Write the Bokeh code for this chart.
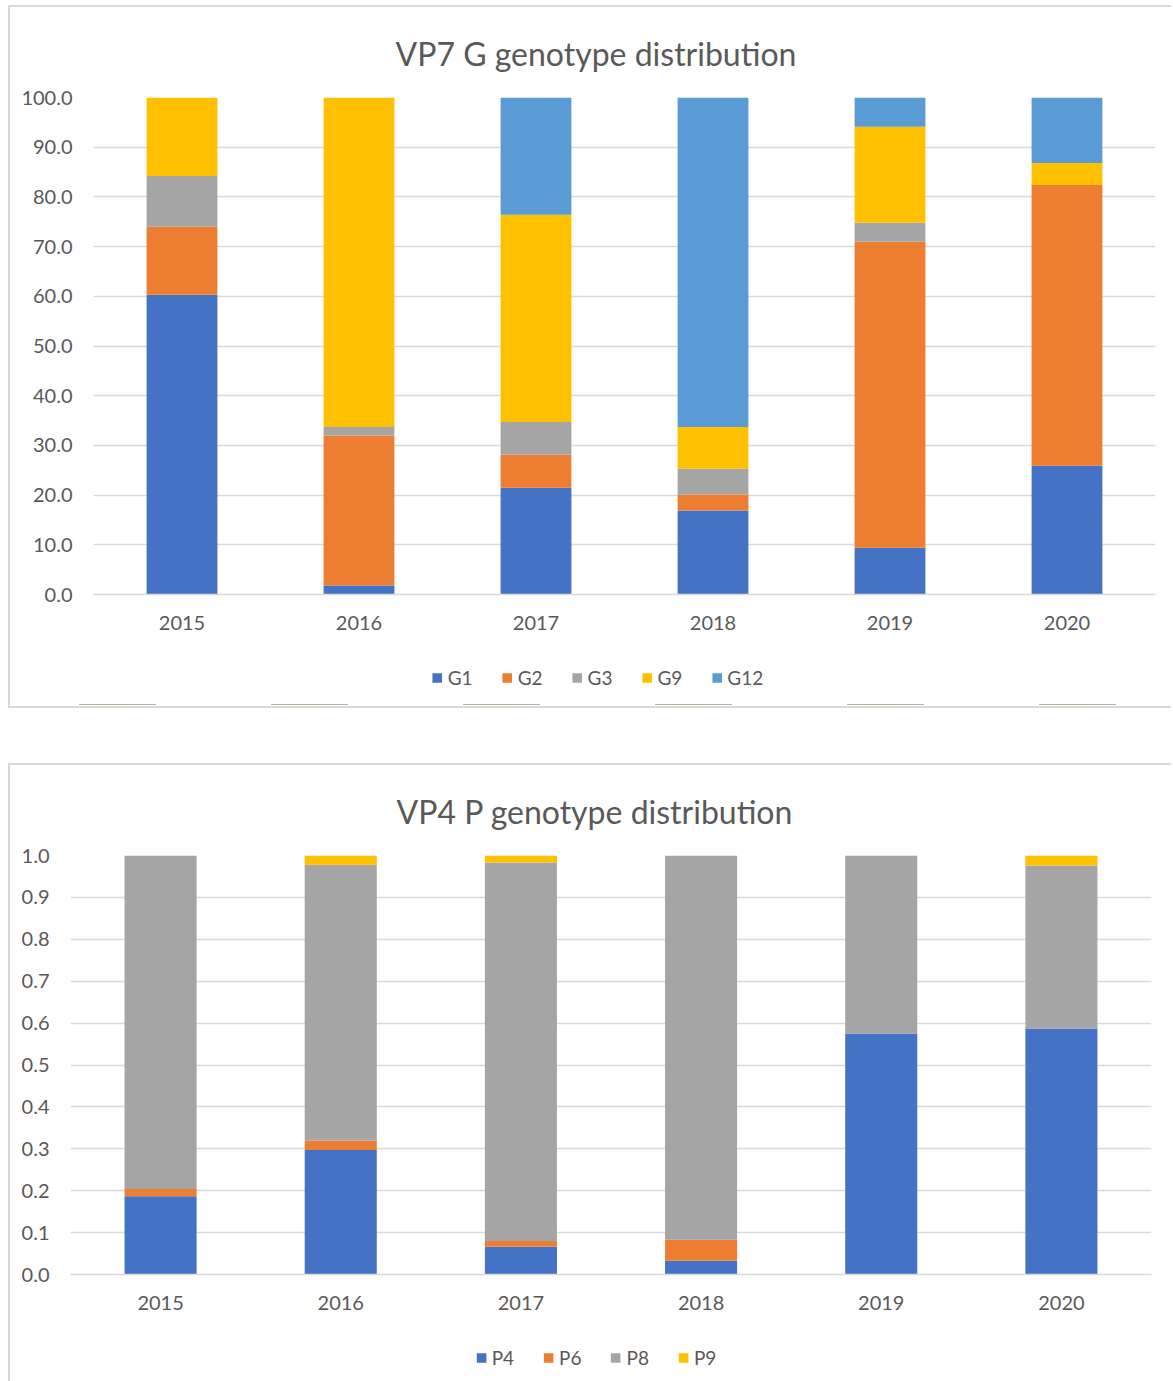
from bokeh.plotting import figure
from bokeh.models import (Legend, LegendItem, Range1d, FactorRange, NumeralTickFormatter,
                          FixedTicker, ColumnDataSource)
from bokeh.embed import file_html
from bokeh.resources import INLINE

years = ["2015", "2016", "2017", "2018", "2019", "2020"]

# VP7 G genotypes (%)
g_names = ["G1", "G2", "G3", "G9", "G12"]
G1 = [60.3, 1.8, 21.5, 16.9, 9.4, 25.9]
G2 = [13.7, 30.2, 6.6, 3.2, 61.6, 56.5]
G3 = [10.2, 1.7, 6.6, 5.2, 3.8, 0.0]
G9 = [15.8, 66.3, 41.7, 8.4, 19.3, 4.4]
G12 = [0.0, 0.0, 23.6, 66.3, 5.9, 13.2]
g_ticks = [0, 10, 20, 30, 40, 50, 60, 70, 80, 90, 100]

# VP4 P genotypes (fraction)
p_names = ["P4", "P6", "P8", "P9"]
P4 = [0.187, 0.297, 0.066, 0.033, 0.575, 0.587]
P6 = [0.017, 0.022, 0.014, 0.050, 0.0, 0.0]
P8 = [0.796, 0.659, 0.903, 0.917, 0.425, 0.389]
P9 = [0.0, 0.022, 0.017, 0.0, 0.0, 0.024]
p_ticks = [0.0, 0.1, 0.2, 0.3, 0.4, 0.5, 0.6, 0.7, 0.8, 0.9, 1.0]

g_colors = ["#4472C4", "#ED7D31", "#A5A5A5", "#FFC000", "#5B9BD5"]
p_colors = ["#4472C4", "#ED7D31", "#A5A5A5", "#FFC000"]

FONT = "Lato"
TXT = "#595959"
GRID = "#D9D9D9"
B = "2px solid #D9D9D9"


def make_source(names, series):
    data = {"year": years}
    for n, s in zip(names, series):
        data[n] = s
    return ColumnDataSource(data)


def make_chart(title, names, series, colors, ymax, ticks, H, mbl, mbr, mbt, mbb,
               title_offset, styles, margin):
    src = make_source(names, series)
    p = figure(x_range=FactorRange(*years, range_padding=0), y_range=Range1d(0, ymax),
               width=1163, height=H, output_backend="svg", toolbar_location=None,
               min_border_left=mbl, min_border_right=mbr, min_border_top=mbt,
               min_border_bottom=mbb, outline_line_color=None, styles=styles,
               margin=margin)
    p.vbar_stack(names, x="year", width=0.4, source=src, fill_color=colors,
                 line_color=None)
    p.title.text = title
    p.title.align = "left"
    p.title.text_font = FONT
    p.title.text_font_size = "32px"
    p.title.text_font_style = "normal"
    p.title.text_color = TXT
    p.title.offset = title_offset
    p.title.standoff = 49

    p.xgrid.grid_line_color = None
    p.ygrid.grid_line_color = GRID
    p.ygrid.grid_line_width = 1.5
    p.yaxis.ticker = FixedTicker(ticks=ticks)
    p.yaxis.formatter = NumeralTickFormatter(format="0.0")
    p.yaxis.axis_line_color = None
    p.xaxis.axis_line_color = GRID
    p.xaxis.axis_line_width = 1.5
    for ax in (p.xaxis, p.yaxis):
        ax.major_tick_line_color = None
        ax.minor_tick_line_color = None
        ax.major_tick_out = 0
        ax.major_tick_in = 0
        ax.minor_tick_out = 0
        ax.major_label_text_font = FONT
        ax.major_label_text_font_size = "20px"
        ax.major_label_text_color = TXT
    p.yaxis.major_label_standoff = 21
    p.xaxis.major_label_standoff = 21
    return p


def make_legend(names, series, colors, ymax, H, mbl, mbt, mbb, styles, margin):
    # a strip that carries only the legend of the chart above it; its y range lies
    # above the data so that the bars themselves fall outside this strip's frame
    src = make_source(names, series)
    p = figure(x_range=FactorRange(*years, range_padding=0),
               y_range=Range1d(10 * ymax, 11 * ymax),
               width=1163, height=H, output_backend="svg", toolbar_location=None,
               x_axis_location=None, y_axis_location=None,
               min_border_left=mbl, min_border_right=0, min_border_top=mbt,
               min_border_bottom=mbb, outline_line_color=None, styles=styles,
               margin=margin)
    p.xgrid.grid_line_color = None
    p.ygrid.grid_line_color = None
    rs = p.vbar_stack(names, x="year", width=0.4, source=src, fill_color=colors,
                      line_color=None)
    items = [LegendItem(label=n, renderers=[r]) for n, r in zip(names, rs)]
    leg = Legend(items=items, orientation="horizontal", location="center",
                 glyph_width=12, glyph_height=12, label_standoff=5, spacing=28,
                 padding=0, margin=0, border_line_color=None, background_fill_alpha=0,
                 label_text_font=FONT, label_text_font_size="19px", label_text_color=TXT,
                 label_width=10)
    p.add_layout(leg)
    return p


top = make_chart("VP7 G genotype distribution", g_names, [G1, G2, G3, G9, G12], g_colors,
                 100, g_ticks, 645, 83, 18, 90, 58, 302,
                 {"border-left": B, "border-top": B}, (5, 0, 0, 8))
top_leg = make_legend(g_names, [G1, G2, G3, G9, G12], g_colors, 100, 58, 11, 0, 4,
                      {"border-left": B, "border-bottom": B}, (0, 0, 0, 8))
bot = make_chart("VP4 P genotype distribution", p_names, [P4, P6, P8, P9], p_colors,
                 1.0, p_ticks, 567, 60, 22, 90, 58, 326,
                 {"border-left": B, "border-top": B}, (55, 0, 0, 8))
bot_leg = make_legend(p_names, [P4, P6, P8, P9], p_colors, 1.0, 51, 8, 3, 0,
                      {"border-left": B}, (0, 0, 0, 8))

open("out.html", "w").write(file_html([top, top_leg, bot, bot_leg], INLINE))
